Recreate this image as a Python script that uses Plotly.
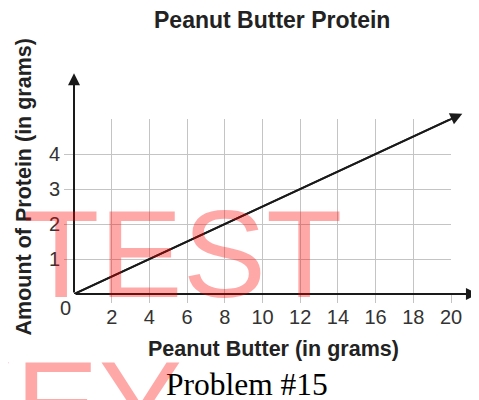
import plotly.graph_objects as go

# ---- data ----
title_text = "Peanut Butter Protein"
x_title = "Peanut Butter (in grams)"
y_title = "Amount of Protein (in grams)"
caption = "Problem #15"
x_ticks = [2, 4, 6, 8, 10, 12, 14, 16, 18, 20]
y_ticks = [1, 2, 3, 4]
y_top_grid = [5]
peanut_butter = [0, 20.6]   # grams of peanut butter (line runs past 20 to its arrow)
protein = [0, 5.15]         # grams of protein (y = x / 4)
origin_label = "0"

# ---- layout geometry (page has an 8px body margin) ----
OFF = 8
W, H = 479 - OFF, 400 - OFF
L, R, T, B = 74 - OFF, 28, 119 - OFF, 106
X_RANGE = [0, 20]
Y_RANGE = [0, 5]
X_AXIS_END = 21.43
Y_AXIS_END = 6.31
pw, ph = W - L - R, H - T - B


def px(xp):
    return (xp - OFF - L) / pw


def py(yp):
    return (H - B - (yp - OFF)) / ph


SANS = "Liberation Sans, Arial, Helvetica, sans-serif"
SERIF = "Liberation Serif, Times New Roman, serif"
GRID = "#c4c4c4"
AX = "#1a1a1a"

fig = go.Figure()
fig.add_trace(go.Scatter(x=peanut_butter, y=protein, mode="lines",
                         line=dict(color=AX, width=2), hoverinfo="skip",
                         showlegend=False))

annotations = []
# axes with arrowheads
for hx, hy in [(X_AXIS_END, 0), (0, Y_AXIS_END)]:
    annotations.append(dict(x=hx, y=hy, ax=0, ay=0, xref="x", yref="y",
                            axref="x", ayref="y", text="", showarrow=True,
                            arrowhead=2, arrowsize=1.2, arrowwidth=2,
                            arrowcolor=AX, standoff=0, startstandoff=0))
# data line arrow
annotations.append(dict(x=peanut_butter[-1], y=protein[-1], ax=peanut_butter[0],
                        ay=protein[0], xref="x", yref="y", axref="x", ayref="y",
                        text="", showarrow=True, arrowhead=2, arrowsize=1.2,
                        arrowwidth=2, arrowcolor=AX, standoff=0, startstandoff=0))
# origin label
annotations.append(dict(x=0, y=0, xref="x", yref="y", text=origin_label,
                        showarrow=False, xshift=-9, yshift=-14,
                        font=dict(family=SANS, size=20, color="#333")))
# titles
annotations.append(dict(x=px(272), y=py(20.5), xref="paper", yref="paper",
                        text="<b>" + title_text + "</b>", showarrow=False,
                        xanchor="center", yanchor="middle",
                        font=dict(family=SANS, size=23, color="#222")))
annotations.append(dict(x=px(273.5), y=py(349), xref="paper", yref="paper",
                        text="<b>" + x_title + "</b>", showarrow=False,
                        xanchor="center", yanchor="middle",
                        font=dict(family=SANS, size=21.5, color="#222")))
annotations.append(dict(x=px(23), y=py(187.5), xref="paper", yref="paper",
                        text="<b>" + y_title + "</b>", showarrow=False,
                        textangle=-90, xanchor="center", yanchor="middle",
                        font=dict(family=SANS, size=21.5, color="#222")))
annotations.append(dict(x=px(247), y=py(384.5), xref="paper", yref="paper",
                        text=caption, showarrow=False,
                        xanchor="center", yanchor="middle",
                        font=dict(family=SERIF, size=31.5, color="#000")))
# watermark
WM = "rgba(255,0,0,0.34)"
annotations.append(dict(x=px(182), y=py(253), xref="paper", yref="paper",
                        text="TEST", showarrow=False, borderpad=0,
                        xanchor="center", yanchor="middle",
                        font=dict(family=SANS, size=125, color=WM)))
annotations.append(dict(x=px(57), y=py(404), xref="paper", yref="paper",
                        text="KEY", showarrow=False, borderpad=0,
                        xanchor="center", yanchor="middle",
                        font=dict(family=SANS, size=125, color=WM)))

fig.update_layout(
    width=W, height=H,
    margin=dict(l=L, r=R, t=T, b=B, pad=0),
    paper_bgcolor="white", plot_bgcolor="white",
    showlegend=False,
    annotations=annotations,
    xaxis=dict(range=X_RANGE, tickmode="array", tickvals=x_ticks,
               showgrid=True, gridcolor=GRID, gridwidth=1,
               ticks="outside", ticklen=8, tickcolor=GRID, tickwidth=1,
               ticklabelstandoff=-3,
               tickfont=dict(family=SANS, size=20, color="#333"),
               showline=False, zeroline=False, fixedrange=True),
    yaxis=dict(range=Y_RANGE, tickmode="array", tickvals=y_ticks,
               showgrid=True, gridcolor=GRID, gridwidth=1,
               ticks="outside", ticklen=9, tickcolor=GRID, tickwidth=1,
               tickfont=dict(family=SANS, size=20, color="#333"),
               minor=dict(tickmode="array", tickvals=y_top_grid, showgrid=True,
                          gridcolor=GRID, gridwidth=1, ticks=""),
               showline=False, zeroline=False, fixedrange=True),
)

fig.write_html("out.html")
